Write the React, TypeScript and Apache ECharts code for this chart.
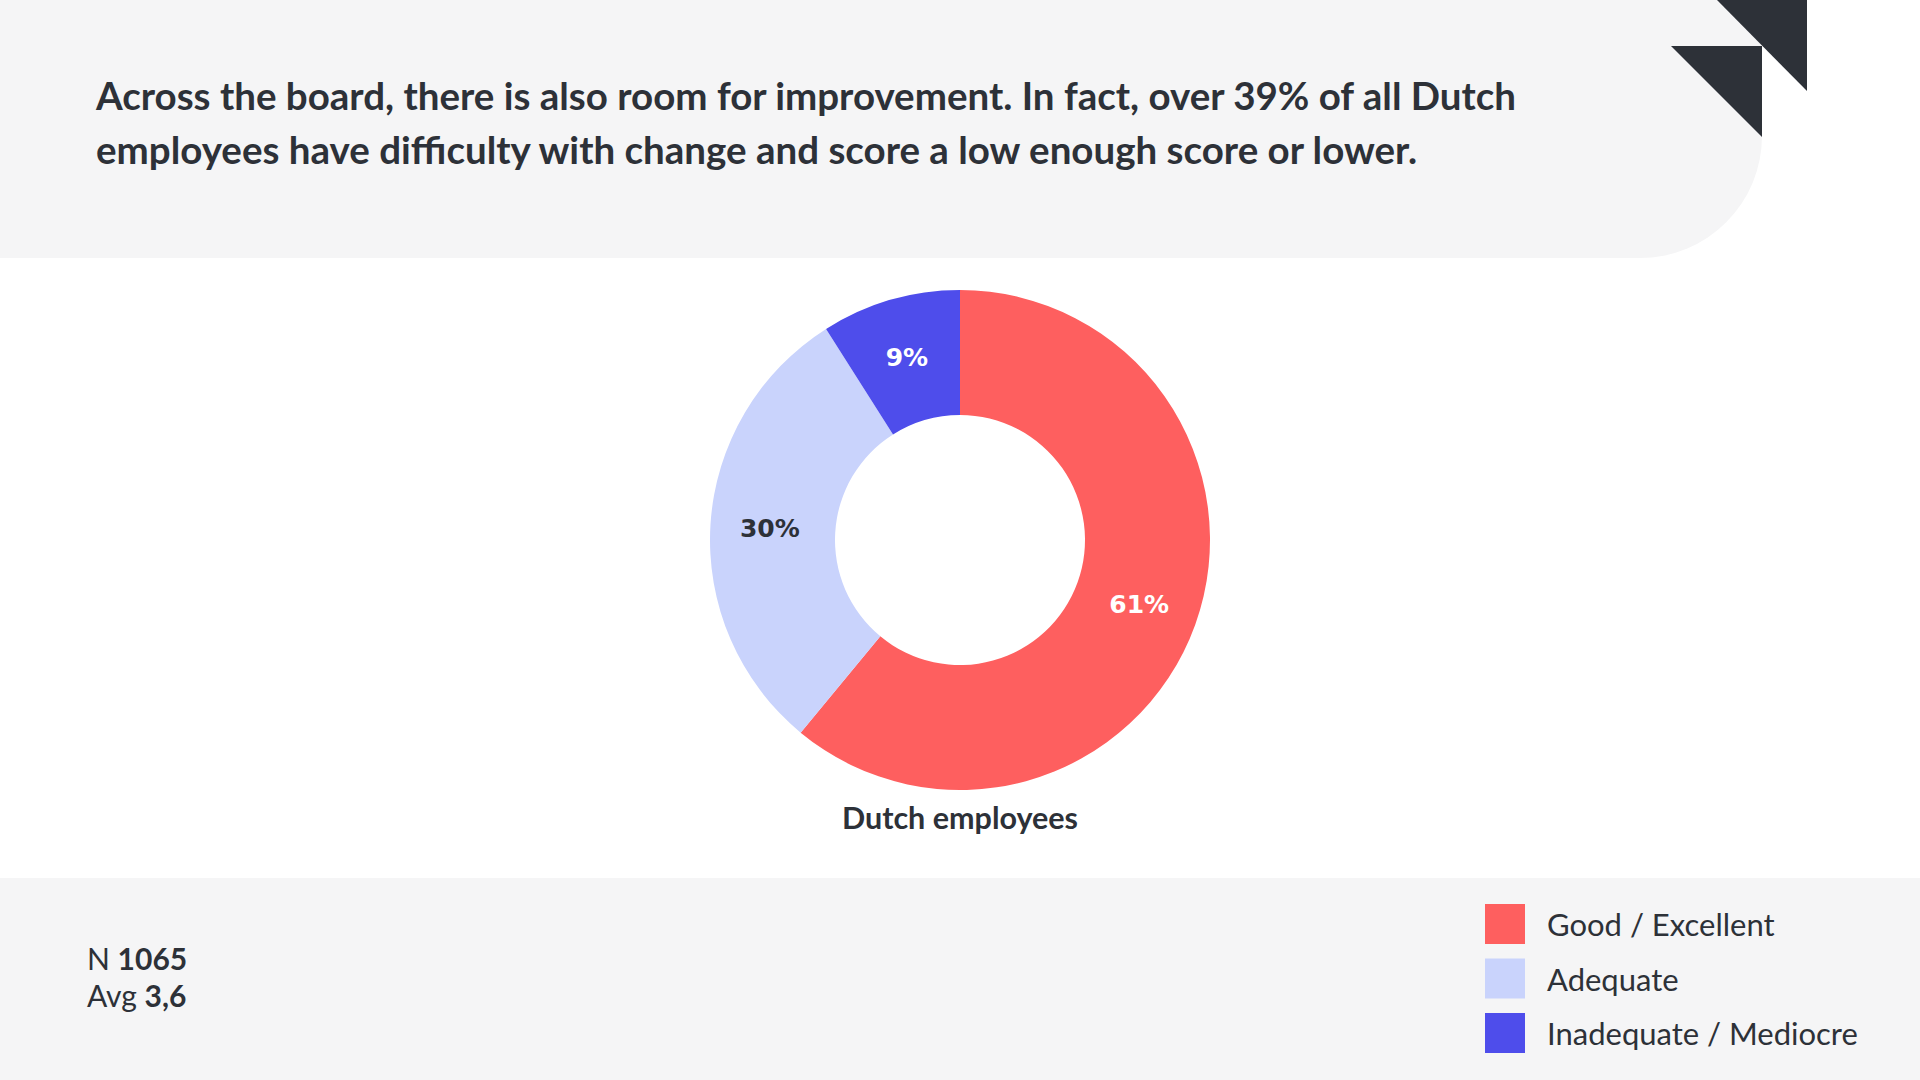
import React, { useEffect, useRef } from "react";
import * as echarts from "echarts";

const categories = ["Good / Excellent", "Adequate", "Inadequate / Mediocre"];
const values = [61, 30, 9];
const sliceColors = ["#fe5f5f", "#c9d3fc", "#4e4deb"];
const labelColors = ["#ffffff", "#2d3138", "#ffffff"];
const titleLines = [
  "Across the board, there is also room for improvement. In fact, over 39% of all Dutch",
  "employees have difficulty with change and score a low enough score or lower.",
];
const chartName = "Dutch employees";
const sampleSize = "1065";
const average = "3,6";

const DARK = "#2d3138";
const GREY = "#f5f5f6";

export default function App() {
  const ref = useRef<HTMLDivElement>(null);
  useEffect(() => {
    if (!ref.current) return;
    const chart = echarts.init(ref.current, null, { renderer: "svg" });
    chart.setOption({
      animation: false,
      backgroundColor: "#ffffff",
      legend: {
        orient: "vertical",
        left: 1485,
        top: 904,
        padding: 0,
        itemWidth: 40,
        itemHeight: 40,
        itemGap: 14.5,
        icon: "rect",
        selectedMode: false,
        data: categories,
        textStyle: {
          fontFamily: "Lato",
          fontSize: 31,
          color: DARK,
          padding: [0, 0, 0, 17],
        },
      },
      graphic: [
        {
          type: "rect",
          z: -10,
          shape: { x: 0, y: 0, width: 1762, height: 258, r: [0, 0, 122, 0] },
          style: { fill: GREY },
        },
        {
          type: "rect",
          z: -10,
          shape: { x: 0, y: 878, width: 1920, height: 202 },
          style: { fill: GREY },
        },
        {
          type: "polygon",
          shape: { points: [[1717, 0], [1807, 0], [1807, 91]] },
          style: { fill: DARK },
        },
        {
          type: "polygon",
          shape: { points: [[1671, 46], [1762, 46], [1762, 137]] },
          style: { fill: DARK },
        },
        ...titleLines.map((t, i) => ({
          type: "text",
          x: 96,
          y: 94.5 + i * 54,
          style: {
            text: t,
            fontFamily: "Lato",
            fontWeight: "bold",
            fontSize: 38.5,
            fill: DARK,
            verticalAlign: "middle",
            align: "left",
          },
        })),
        {
          type: "text",
          x: 960,
          y: 817,
          style: {
            text: chartName,
            fontFamily: "Lato",
            fontWeight: "bold",
            fontSize: 30.5,
            fill: DARK,
            align: "center",
            verticalAlign: "middle",
          },
        },
        {
          type: "text",
          x: 87,
          y: 958,
          style: {
            text: "{r|N }{b|" + sampleSize + "}",
            verticalAlign: "middle",
            align: "left",
            rich: {
              r: { fontFamily: "Lato", fontSize: 30, fill: DARK, color: DARK },
              b: { fontFamily: "Lato", fontSize: 30, fontWeight: "bold", fill: DARK, color: DARK },
            },
          },
        },
        {
          type: "text",
          x: 87,
          y: 995,
          style: {
            text: "{r|Avg }{b|" + average + "}",
            verticalAlign: "middle",
            align: "left",
            rich: {
              r: { fontFamily: "Lato", fontSize: 30, fill: DARK, color: DARK },
              b: { fontFamily: "Lato", fontSize: 30, fontWeight: "bold", fill: DARK, color: DARK },
            },
          },
        },
      ],
      series: [
        {
          type: "pie",
          center: [960, 540],
          radius: [125, 250],
          startAngle: 90,
          clockwise: true,
          avoidLabelOverlap: false,
          label: {
            show: true,
            position: "inside",
            formatter: "{c}%",
            fontFamily: "DejaVu Sans",
            fontWeight: "bold",
            fontSize: 25,
          },
          labelLine: { show: false },
          emphasis: { disabled: true },
          data: categories.map((name, i) => ({
            name,
            value: values[i],
            itemStyle: { color: sliceColors[i] },
            label: { color: labelColors[i] },
          })),
        },
      ],
    });
    return () => chart.dispose();
  }, []);
  return (
    <div
      ref={ref}
      style={{ position: "fixed", left: 0, top: 0, width: 1920, height: 1080 }}
    />
  );
}
